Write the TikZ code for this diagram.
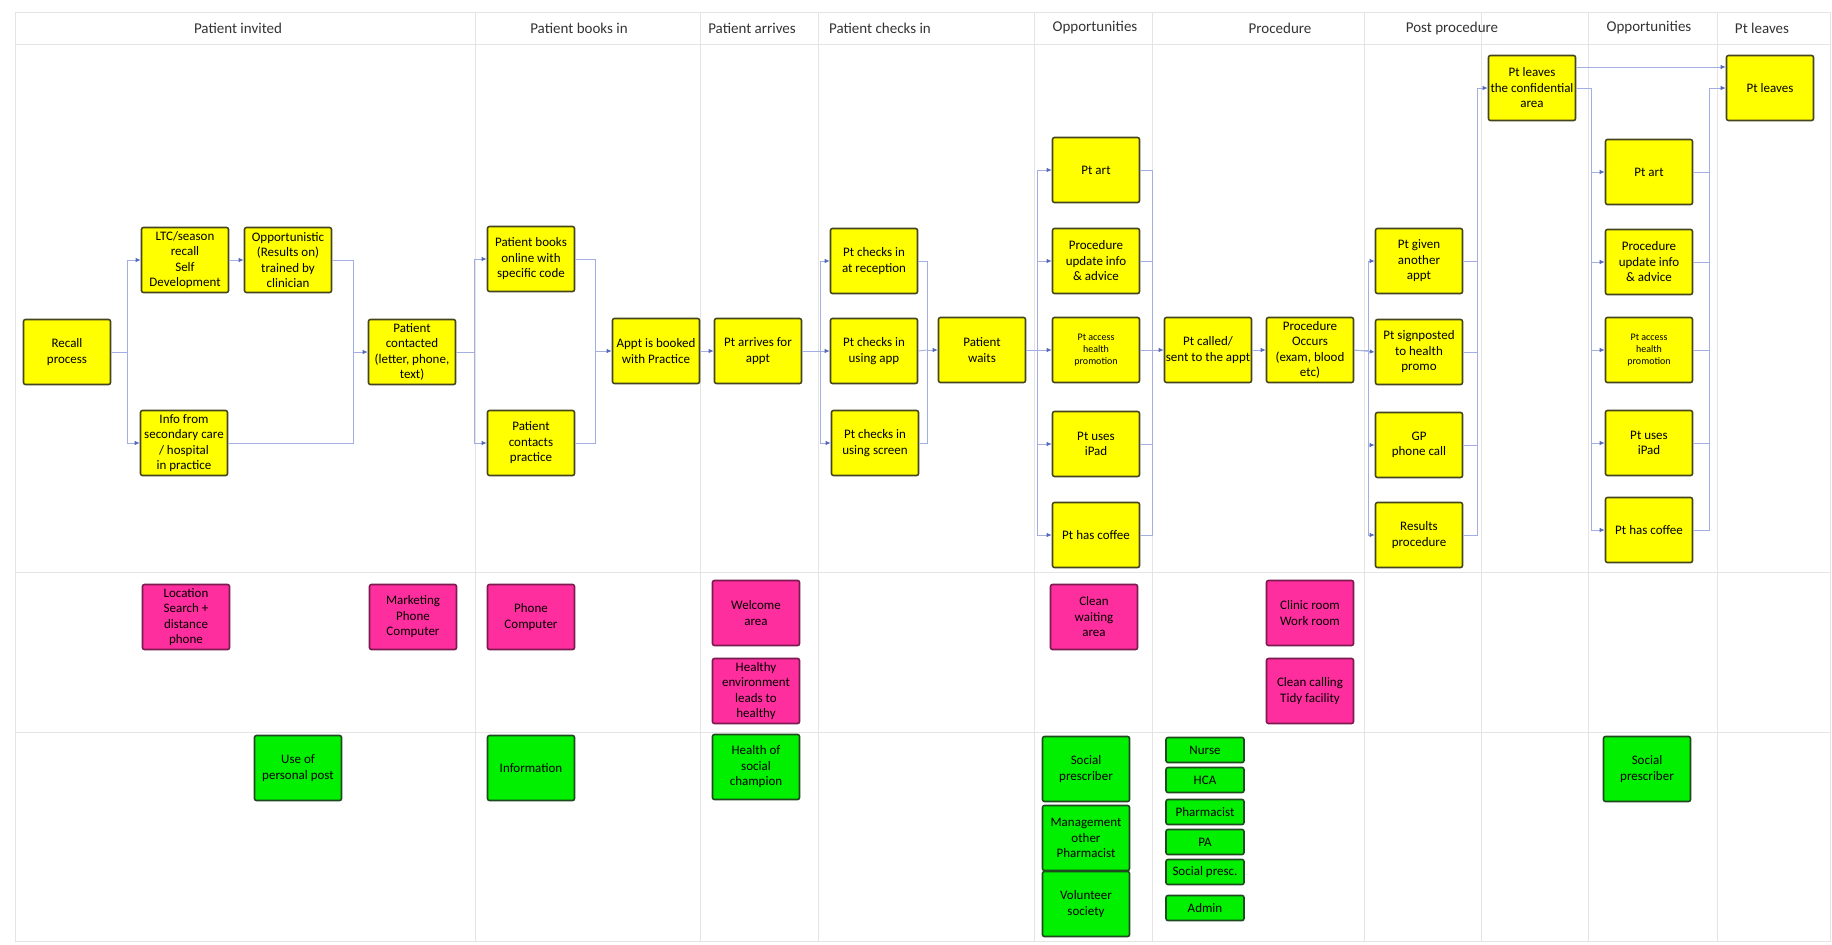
\documentclass[tikz,border=0pt]{standalone}
\usepackage{fontspec}
\setmainfont{Carlito}
\usepackage{tikz}
\usepackage{xcolor}
\usetikzlibrary{positioning, arrows.meta}
\definecolor{stepyellow}{HTML}{FFFF00}
\definecolor{stepedge}{HTML}{45451E}
\definecolor{touchpink}{HTML}{FF2E9E}
\definecolor{touchedge}{HTML}{7A1A4E}
\definecolor{staffgreen}{HTML}{00F000}
\definecolor{staffedge}{HTML}{1E4A1E}
\definecolor{linkblue}{HTML}{A3AEE2}
\definecolor{tipblue}{HTML}{5468B8}
\definecolor{lanegray}{HTML}{E4E4E4}
\tikzstyle{stepbox} = [rectangle, draw=stepedge, line width=1.6pt,
    rounded corners=2pt, fill=stepyellow, minimum width=87pt,
    minimum height=65pt, align=center, inner sep=1pt,
    font=\fontsize{13}{15.5}\selectfont]
\tikzstyle{touch} = [stepbox, fill=touchpink, draw=touchedge]
\tikzstyle{staff} = [stepbox, fill=staffgreen, draw=staffedge]
\tikzstyle{staffsmall} = [staff, minimum width=78pt, minimum height=25pt]
\tikzstyle{bus} = [draw=linkblue, line width=0.9pt]
\tikzstyle{link} = [bus, -{Latex[length=5pt,width=4.5pt,color=tipblue]}]
\tikzstyle{lane} = [draw=lanegray, line width=1pt]
\tikzstyle{heading} = [font=\fontsize{15}{17}\selectfont, text=black!80]

\begin{document}
\begin{tikzpicture}[x=1pt, y=-1pt]
	\useasboundingbox (0,0) rectangle (1832,945);
	% swimlane grid
	\draw [lane] (15,12) rectangle (1830,941);
	\draw [lane] (15,44) -- (1830,44);
	\draw [lane] (15,572) -- (1830,572);
	\draw [lane] (15,732) -- (1830,732);
	\draw [lane] (475,12) -- (475,941);
	\draw [lane] (700,12) -- (700,941);
	\draw [lane] (818,12) -- (818,941);
	\draw [lane] (1034,12) -- (1034,941);
	\draw [lane] (1152,12) -- (1152,941);
	\draw [lane] (1364,12) -- (1364,941);
	\draw [lane] (1481,12) -- (1481,941);
	\draw [lane] (1588,12) -- (1588,941);
	\draw [lane] (1717,12) -- (1717,941);
	% stage headings
	\node [heading] (h_invited) at (238,28) {Patient invited};
	\node [heading] (h_books) at (579,28) {Patient books in};
	\node [heading] (h_arrives) at (752,28) {Patient arrives};
	\node [heading] (h_checks) at (880,28) {Patient checks in};
	\node [heading] (h_oppA) at (1095,28) {Opportunities};
	\node [heading] (h_proc) at (1280,28) {Procedure};
	\node [heading] (h_post) at (1452,28) {Post procedure};
	\node [heading] (h_oppB) at (1649,28) {Opportunities};
	\node [heading] (h_leaves) at (1762,28) {Pt leaves};
	% patient steps
	\node [stepbox] (Recall) at (67,352) {Recall\\process};
	\node [stepbox] (LTC) at (185,260) {LTC/season\\recall\\Self\\Development};
	\node [stepbox] (Opportunistic) at (288,260)
		{Opportunistic\\(Results on)\\trained by\\clinician};
	\node [stepbox] (Info) at (184,443)
		{Info from\\secondary care\\/ hospital\\in practice};
	\node [stepbox] (Contacted) at (412,352)
		{Patient\\contacted\\(letter, phone,\\text)};
	\node [stepbox] (Online) at (531,259) {Patient books\\online with\\specific code};
	\node [stepbox] (Contacts) at (531,443) {Patient\\contacts\\practice};
	\node [stepbox] (Booked) at (656,351) {Appt is booked\\with Practice};
	\node [stepbox] (Arrives) at (758,351) {Pt arrives for\\appt};
	\node [stepbox] (Reception) at (874,261) {Pt checks in\\at reception};
	\node [stepbox] (App) at (874,351) {Pt checks in\\using app};
	\node [stepbox] (Screen) at (875,443) {Pt checks in\\using screen};
	\node [stepbox] (Waits) at (982,350) {Patient\\waits};
	\node [stepbox] (Art_A) at (1096,170) {Pt art};
	\node [stepbox] (Advice_A) at (1096,261) {Procedure\\update info\\\& advice};
	\node [stepbox, font=\fontsize{10}{12}\selectfont] (Promo_A) at (1096,350)
		{Pt access\\health\\promotion};
	\node [stepbox] (Ipad_A) at (1096,444) {Pt uses\\iPad};
	\node [stepbox] (Coffee_A) at (1096,535) {Pt has coffee};
	\node [stepbox] (Called) at (1208,350) {Pt called/\\sent to the appt};
	\node [stepbox] (Occurs) at (1310,350) {Procedure\\Occurs\\(exam, blood\\etc)};
	\node [stepbox] (Another) at (1419,261) {Pt given\\another\\appt};
	\node [stepbox] (Signposted) at (1419,352) {Pt signposted\\to health\\promo};
	\node [stepbox] (Phone) at (1419,445) {GP\\phone call};
	\node [stepbox] (Results) at (1419,535) {Results\\procedure};
	\node [stepbox] (Confidential) at (1532,88) {Pt leaves\\the confidential\\area};
	\node [stepbox] (Art_B) at (1649,172) {Pt art};
	\node [stepbox] (Advice_B) at (1649,262) {Procedure\\update info\\\& advice};
	\node [stepbox, font=\fontsize{10}{12}\selectfont] (Promo_B) at (1649,350)
		{Pt access\\health\\promotion};
	\node [stepbox] (Ipad_B) at (1649,443) {Pt uses\\iPad};
	\node [stepbox] (Coffee_B) at (1649,530) {Pt has coffee};
	\node [stepbox] (Leaves) at (1770,88) {Pt leaves};
	% touchpoints
	\node [touch] (Location) at (186,617) {Location\\Search +\\distance\\phone};
	\node [touch] (Marketing) at (413,617) {Marketing\\Phone\\Computer};
	\node [touch] (PhonePC) at (531,617) {Phone\\Computer};
	\node [touch] (Welcome) at (756,613) {Welcome\\area};
	\node [touch] (Healthy) at (756,691) {Healthy\\environment\\leads to\\healthy};
	\node [touch] (Waiting) at (1094,617) {Clean\\waiting\\area};
	\node [touch] (Clinic) at (1310,613) {Clinic room\\Work room};
	\node [touch] (Tidy) at (1310,691) {Clean calling\\Tidy facility};
	% people
	\node [staff] (Personal) at (298,768) {Use of\\personal post};
	\node [staff] (Information) at (531,768) {Information};
	\node [staff] (Champion) at (756,767) {Health of\\social\\champion};
	\node [staff] (Prescriber_A) at (1086,769) {Social\\prescriber};
	\node [staff] (Management) at (1086,838) {Management\\other\\Pharmacist};
	\node [staff] (Volunteer) at (1086,904) {Volunteer\\society};
	\node [staffsmall] (Nurse) at (1205,750) {Nurse};
	\node [staffsmall] (HCA) at (1205,780) {HCA};
	\node [staffsmall] (Pharmacist) at (1205,812) {Pharmacist};
	\node [staffsmall] (PA) at (1205,842) {PA};
	\node [staffsmall] (SocialPresc) at (1205,872) {Social presc.};
	\node [staffsmall] (Admin) at (1205,908) {Admin};
	\node [staff] (Prescriber_B) at (1647,769) {Social\\prescriber};
	% joins of the buses
	\coordinate (Invite_join) at (353,352);
	\coordinate (Book_join) at (595,351);
	\coordinate (Check_join) at (927,350);
	\coordinate (OppA_join) at (1152,350);
	\coordinate (Post_join) at (1477,88);
	\coordinate (OppB_join) at (1709,88);
	% patient invited
	\path [link] (Recall.east) -- ++(16,0) |- (LTC.west);
	\path [link] (Recall.east) -- ++(16,0) |- (Info.west);
	\path [link] (LTC.east) -- (Opportunistic.west);
	\path [bus] (Opportunistic.east) -| (Invite_join);
	\path [bus] (Info.east) -| (Invite_join);
	\path [link] (Invite_join) -- (Contacted.west);
	% patient books in
	\path [link] (Contacted.east) -- ++(18,0) |- (Online.west);
	\path [link] (Contacted.east) -- ++(18,0) |- (Contacts.west);
	\path [bus] (Online.east) -| (Book_join);
	\path [bus] (Contacts.east) -| (Book_join);
	\path [link] (Book_join) -- (Booked.west);
	\path [link] (Booked.east) -- (Arrives.west);
	% patient checks in
	\path [link] (Arrives.east) -- ++(18,0) |- (Reception.west);
	\path [link] (Arrives.east) -- (App.west);
	\path [link] (Arrives.east) -- ++(18,0) |- (Screen.west);
	\path [bus] (Reception.east) -| (Check_join);
	\path [bus] (App.east) -- (Check_join);
	\path [bus] (Screen.east) -| (Check_join);
	\path [link] (Check_join) -- (Waits.west);
	% opportunities while waiting
	\path [link] (Waits.east) -- ++(11,0) |- (Art_A.west);
	\path [link] (Waits.east) -- ++(11,0) |- (Advice_A.west);
	\path [link] (Waits.east) -- (Promo_A.west);
	\path [link] (Waits.east) -- ++(11,0) |- (Ipad_A.west);
	\path [link] (Waits.east) -- ++(11,0) |- (Coffee_A.west);
	\path [bus] (Art_A.east) -| (OppA_join);
	\path [bus] (Advice_A.east) -| (OppA_join);
	\path [bus] (Promo_A.east) -- (OppA_join);
	\path [bus] (Ipad_A.east) -| (OppA_join);
	\path [bus] (Coffee_A.east) -| (OppA_join);
	\path [link] (OppA_join) -- (Called.west);
	% procedure
	\path [link] (Called.east) -- (Occurs.west);
	\path [link] (Occurs.east) -- ++(14,0) |- (Another.west);
	\path [link] (Occurs.east) -- (Signposted.west);
	\path [link] (Occurs.east) -- ++(14,0) |- (Phone.west);
	\path [link] (Occurs.east) -- ++(14,0) |- (Results.west);
	\path [bus] (Another.east) -| (Post_join);
	\path [bus] (Signposted.east) -| (Post_join);
	\path [bus] (Phone.east) -| (Post_join);
	\path [bus] (Results.east) -| (Post_join);
	\path [link] (Post_join) -- (Confidential.west);
	% leaving
	\path [link] ([yshift=21pt]Confidential.east) -- ([yshift=21pt]Leaves.west);
	\path [link] (Confidential.east) -- ++(15,0) |- (Art_B.west);
	\path [link] (Confidential.east) -- ++(15,0) |- (Advice_B.west);
	\path [link] (Confidential.east) -- ++(15,0) |- (Promo_B.west);
	\path [link] (Confidential.east) -- ++(15,0) |- (Ipad_B.west);
	\path [link] (Confidential.east) -- ++(15,0) |- (Coffee_B.west);
	\path [bus] (Art_B.east) -| (OppB_join);
	\path [bus] (Advice_B.east) -| (OppB_join);
	\path [bus] (Promo_B.east) -| (OppB_join);
	\path [bus] (Ipad_B.east) -| (OppB_join);
	\path [bus] (Coffee_B.east) -| (OppB_join);
	\path [link] (OppB_join) -- (Leaves.west);
\end{tikzpicture}
\end{document}
